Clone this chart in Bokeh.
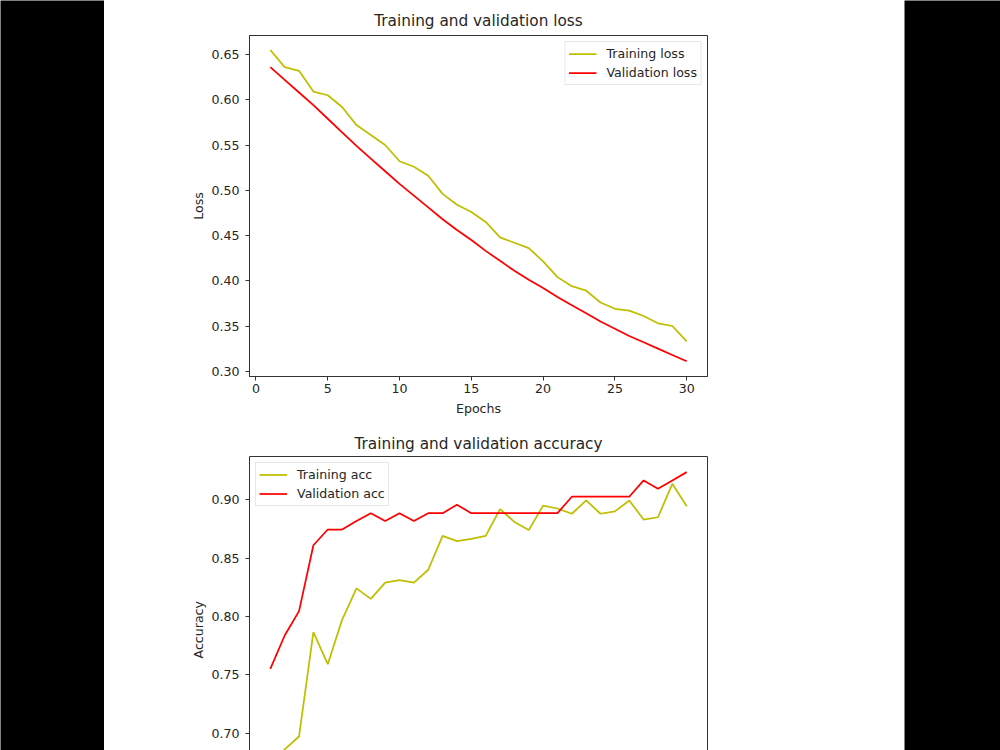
from bokeh.embed import file_html
from bokeh.layouts import column, row
from bokeh.models import FixedTicker, LinearAxis, PrintfTickFormatter, Range1d, Title
from bokeh.plotting import figure
from bokeh.resources import INLINE

# ---- training history (30 epochs) ----
epochs = list(range(1, 31))

train_loss = [0.655, 0.636, 0.632, 0.609, 0.605, 0.592, 0.572, 0.561, 0.550, 0.532,
              0.526, 0.516, 0.496, 0.484, 0.476, 0.465, 0.448, 0.442, 0.436, 0.4215,
              0.404, 0.394, 0.389, 0.376, 0.369, 0.367, 0.361, 0.353, 0.350, 0.333]

val_loss = [0.636, 0.622, 0.608, 0.594, 0.579, 0.564, 0.549, 0.535, 0.521, 0.507,
            0.494, 0.481, 0.468, 0.456, 0.445, 0.433, 0.422, 0.411, 0.401, 0.392,
            0.382, 0.373, 0.364, 0.355, 0.347, 0.339, 0.332, 0.325, 0.318, 0.311]

train_acc = [0.658, 0.686, 0.697, 0.7865, 0.759, 0.797, 0.824, 0.815, 0.829, 0.831,
             0.829, 0.840, 0.869, 0.8645, 0.8665, 0.869, 0.892, 0.881, 0.874, 0.895,
             0.8925, 0.888, 0.8994, 0.888, 0.890, 0.8994, 0.883, 0.885, 0.9137, 0.8945]

val_acc = [0.755, 0.7836, 0.8045, 0.861, 0.8745, 0.8745, 0.8817, 0.8885, 0.8817, 0.8885,
           0.8817, 0.8885, 0.8885, 0.8957, 0.8885, 0.8885, 0.8885, 0.8885, 0.8885, 0.8885,
           0.8885, 0.9026, 0.9026, 0.9026, 0.9026, 0.9026, 0.9166, 0.9094, 0.9166, 0.9237]

epoch_ticks = [0, 5, 10, 15, 20, 25, 30]
loss_ticks = [0.30, 0.35, 0.40, 0.45, 0.50, 0.55, 0.60, 0.65]
acc_ticks = [0.70, 0.75, 0.80, 0.85, 0.90]

# ---- styling ----
FONT = "DejaVu Sans"
SMALL = "12.6px"
TITLE = "15.3px"
TEXT_C = "#262626"
AXIS_C = "#333333"
TRAIN_C = "#bfbf00"
VAL_C = "#ff0000"
LW = 1.75


def block(w, h, color):
    """Plain filled rectangle used for the page margins."""
    b = figure(width=w, height=h, toolbar_location=None, output_backend="svg",
               min_border=0, x_axis_location=None, y_axis_location=None,
               background_fill_color=color, border_fill_color=color,
               outline_line_color=None)
    b.grid.visible = False
    return b


def style_axis(ax, standoff):
    ax.axis_line_color = AXIS_C
    ax.axis_line_width = 1
    ax.major_tick_line_color = AXIS_C
    ax.major_tick_out = 4
    ax.major_tick_in = 0
    ax.minor_tick_line_color = None
    ax.major_label_text_font = FONT
    ax.major_label_text_font_size = SMALL
    ax.major_label_text_color = TEXT_C
    ax.major_label_standoff = standoff
    ax.axis_label_text_font = FONT
    ax.axis_label_text_font_size = SMALL
    ax.axis_label_text_color = TEXT_C
    ax.axis_label_text_font_style = "normal"


def style_common(p, title, title_standoff):
    p.title.text = title
    p.title.text_font = FONT
    p.title.text_font_size = TITLE
    p.title.text_font_style = "normal"
    p.title.text_color = TEXT_C
    p.title.align = "center"
    p.title.standoff = title_standoff
    p.xgrid.visible = False
    p.ygrid.visible = False
    leg = p.legend[0]
    leg.label_text_font = FONT
    leg.label_text_font_size = SMALL
    leg.label_text_color = TEXT_C
    leg.border_line_color = "#d0d0d0"
    leg.border_line_width = 1
    leg.background_fill_alpha = 0.8
    leg.glyph_width = 28
    leg.glyph_height = 17
    leg.label_standoff = 10
    leg.label_height = 17
    leg.padding = 3
    leg.spacing = 2
    leg.margin = 6


# ---- loss panel ----
p1 = figure(width=800, height=420, toolbar_location=None, output_backend="svg",
            x_range=Range1d(-0.45, 31.45), y_range=Range1d(0.2942, 0.6710),
            min_border_left=145, min_border_right=197, min_border_top=32,
            min_border_bottom=47, outline_line_color=AXIS_C)
p1.line(epochs, train_loss, color=TRAIN_C, line_width=LW, legend_label="Training loss")
p1.line(epochs, val_loss, color=VAL_C, line_width=LW, legend_label="Validation loss")
p1.xaxis.ticker = FixedTicker(ticks=epoch_ticks)
p1.xaxis.formatter = PrintfTickFormatter(format="%d")
p1.yaxis.ticker = FixedTicker(ticks=loss_ticks)
p1.yaxis.formatter = PrintfTickFormatter(format="%.2f")
p1.xaxis.axis_label = "Epochs"
p1.yaxis.axis_label = "Loss"
for ax in p1.xaxis:
    style_axis(ax, 3)
for ax in p1.yaxis:
    style_axis(ax, 6)
p1.xaxis.axis_label_standoff = 5
p1.yaxis.axis_label_standoff = 2
style_common(p1, "Training and validation loss", 12)
p1.legend.location = "top_right"

# ---- accuracy panel ----
p2 = figure(width=800, height=327, toolbar_location=None, output_backend="svg",
            x_range=Range1d(-0.45, 31.45), y_range=Range1d(0.6850, 0.9371),
            min_border_left=145, min_border_right=197, min_border_top=33,
            min_border_bottom=0, x_axis_location=None, outline_line_color=None)
p2.line(epochs, train_acc, color=TRAIN_C, line_width=LW, legend_label="Training acc")
p2.line(epochs, val_acc, color=VAL_C, line_width=LW, legend_label="Validation acc")
p2.yaxis.ticker = FixedTicker(ticks=acc_ticks)
p2.yaxis.formatter = PrintfTickFormatter(format="%.2f")
for ax in p2.yaxis:
    style_axis(ax, 6)
# frame edges on the top and right
for side in ("above", "right"):
    edge = LinearAxis(ticker=FixedTicker(ticks=[]), major_label_text_font_size="0px",
                      axis_line_color=AXIS_C, axis_line_width=1,
                      major_tick_line_color=None, minor_tick_line_color=None)
    p2.add_layout(edge, side)
# y label centred on the full axis height, which runs past the page bottom
p2.add_layout(Title(text="Accuracy", align="left", vertical_align="bottom", offset=92,
                    standoff=6, text_font=FONT, text_font_size=SMALL,
                    text_font_style="normal", text_color=TEXT_C), "left")
style_common(p2, "Training and validation accuracy", 8)
p2.legend.location = "top_left"

# ---- page ----
top_strip = row(block(81, 3, "white"), block(719, 3, "#e8e8e8"))
middle = column(top_strip, p1, p2)
page = row(block(104, 750, "black"), middle, block(96, 750, "black"))

open("out.html", "w").write(file_html(page, INLINE))
